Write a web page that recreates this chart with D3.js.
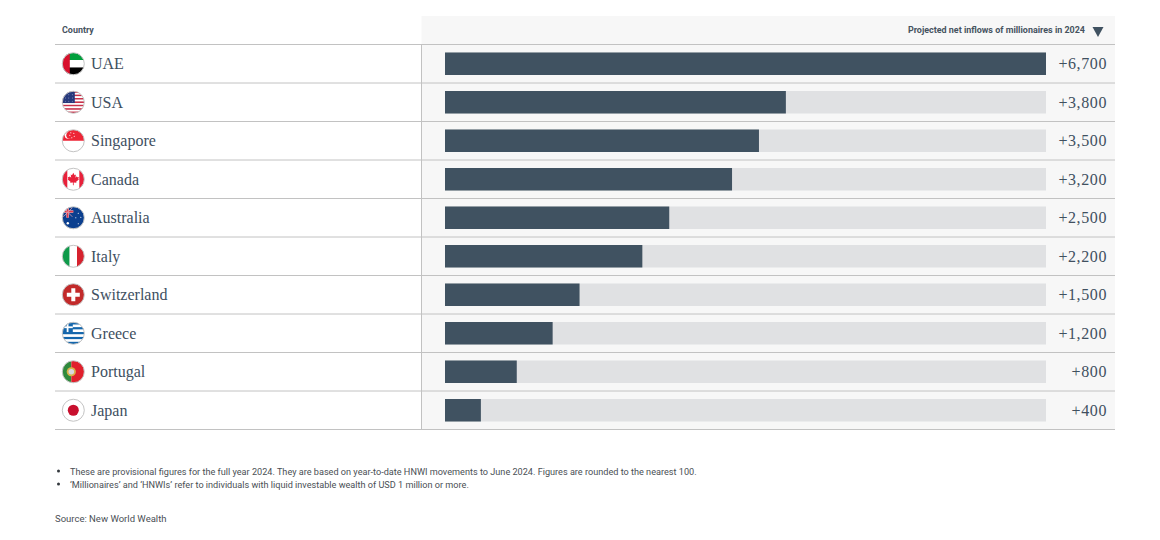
<!DOCTYPE html>
<html>
<head>
<meta charset="utf-8">
<script src="https://cdn.jsdelivr.net/npm/d3@7"></script>
<style>
  html, body { margin: 0; padding: 0; background: #fff; }
  svg { display: block; }
  .country, .value { font-family: "Liberation Serif", serif; font-size: 16px; fill: #40505f; }
  .value { letter-spacing: 0.6px; }
  .head { font-family: Roboto, sans-serif; font-size: 8.95px; font-weight: 700; fill: #46535f; }
  .note { font-family: Roboto, sans-serif; font-size: 9.13px; fill: #4a4f55; }
  .source { font-family: Roboto, sans-serif; font-size: 9.5px; fill: #4a4f55; }
</style>
</head>
<body>
<div id="viz"></div>
<script>
// Data
const countries = ["UAE", "USA", "Singapore", "Canada", "Australia", "Italy", "Switzerland", "Greece", "Portugal", "Japan"];
const inflows = [6700, 3800, 3500, 3200, 2500, 2200, 1500, 1200, 800, 400];
const countryHeader = "Country";
const valueHeader = "Projected net inflows of millionaires in 2024";
const notes = [
  "These are provisional figures for the full year 2024. They are based on year-to-date HNWI movements to June 2024. Figures are rounded to the nearest 100.",
  "\u2018Millionaires\u2019 and \u2018HNWIs\u2019 refer to individuals with liquid investable wealth of USD 1 million or more."
];
const source = "Source: New World Wealth";

// Dimensions
const dims = { width: 1160, height: 540, left: 55, right: 1115, divider: 421.5, panelTop: 16, headLine: 44.5, bottom: 429.5 };
const colors = { panel: "#f7f7f7", track: "#e0e1e3", bar: "#405261", line: "#c2c2c2" };

const svg = d3.select("#viz").append("svg")
  .attr("width", dims.width)
  .attr("height", dims.height);

const y = d3.scaleBand().domain(countries).range([dims.headLine, dims.bottom]);
const x = d3.scaleLinear().domain([0, d3.max(inflows)]).range([445, 1046]);
const barH = 22.5;

// grey panel behind the bars
svg.append("rect")
  .attr("x", dims.divider).attr("y", dims.panelTop)
  .attr("width", dims.right - dims.divider).attr("height", dims.bottom - dims.panelTop)
  .attr("fill", colors.panel);

// Header
svg.append("text").attr("class", "head").attr("x", 62).attr("y", 33).text(countryHeader);
svg.append("text").attr("class", "head").attr("x", 1085).attr("y", 33).attr("text-anchor", "end").text(valueHeader);
svg.append("path").attr("d", "M1092.5,27H1103.5L1098,37Z").attr("fill", colors.bar);

// Row rules
svg.selectAll("line.rule")
  .data([dims.headLine, ...countries.map(c => y(c) + y.bandwidth())])
  .enter().append("line")
  .attr("class", "rule")
  .attr("x1", dims.left).attr("x2", dims.right)
  .attr("y1", d => d).attr("y2", d => d)
  .attr("stroke", colors.line);

svg.append("line")
  .attr("x1", dims.divider).attr("x2", dims.divider)
  .attr("y1", dims.headLine).attr("y2", dims.bottom)
  .attr("stroke", colors.line);

const rows = svg.selectAll("g.row")
  .data(countries.map((c, i) => ({ country: c, value: inflows[i] })))
  .enter().append("g")
  .attr("class", "row")
  .attr("transform", d => `translate(0,${y(d.country) + y.bandwidth() / 2})`);

// Bars
rows.append("rect")
  .attr("x", x(0)).attr("y", -barH / 2)
  .attr("width", x(d3.max(inflows)) - x(0)).attr("height", barH)
  .attr("fill", colors.track);

rows.append("rect")
  .attr("x", x(0)).attr("y", -barH / 2)
  .attr("width", d => x(d.value) - x(0)).attr("height", barH)
  .attr("fill", colors.bar);

rows.append("text").attr("class", "country")
  .attr("x", 91).attr("y", 5.5)
  .text(d => d.country);

rows.append("text").attr("class", "value")
  .attr("x", 1107).attr("y", 5.5).attr("text-anchor", "end")
  .text(d => "+" + d3.format(",")(d.value));

// Flags, drawn in a 22px box centred on 0,0
const r = 11;
const box = (g, fill, bx, by, w, h) => g.append("rect").attr("x", bx).attr("y", by).attr("width", w).attr("height", h).attr("fill", fill);

const flagDrawers = {
  UAE: g => {
    box(g, "#00a03c", -r, -r, 22, 7.4);
    box(g, "#ffffff", -r, -3.7, 22, 7.4);
    box(g, "#000000", -r, 3.7, 22, 7.4);
    box(g, "#d8102c", -r, -r, 7.5, 22);
  },
  USA: g => {
    d3.range(13).forEach(i => box(g, i % 2 ? "#ffffff" : "#c8314a", -r, -r + i * 22 / 13, 22, 22 / 13));
    box(g, "#27397c", -r, -r, 12.5, 11.8);
    d3.range(3).forEach(i => d3.range(3).forEach(j =>
      g.append("circle").attr("cx", -8 + j * 3.5).attr("cy", -7.5 + i * 3.2).attr("r", 0.45).attr("fill", "#cfd4e6")));
  },
  Singapore: g => {
    box(g, "#ffffff", -r, -r, 22, 22);
    box(g, "#ee2536", -r, -r, 22, 11);
    g.append("circle").attr("cx", -5).attr("cy", -5.5).attr("r", 3.6).attr("fill", "#fff");
    g.append("circle").attr("cx", -3.6).attr("cy", -5.5).attr("r", 3.4).attr("fill", "#ee2536");
    [[-2.5, -8], [0.5, -7.5], [1, -4.5], [-1.5, -3], [-3.5, -5.5]].forEach(p =>
      g.append("circle").attr("cx", p[0]).attr("cy", p[1]).attr("r", 0.6).attr("fill", "#fff"));
  },
  Canada: g => {
    box(g, "#ffffff", -r, -r, 22, 22);
    box(g, "#e8203a", -r, -r, 5, 22);
    box(g, "#e8203a", 6, -r, 5, 22);
    g.append("path").attr("fill", "#e8203a")
      .attr("d", "M0,-6.5L1.3,-4L2.6,-4.7L2.1,-1.6L3.6,-3L4,-2L5.5,-2.2L5,-0.2L5.6,0.3L2.8,2.6L3.2,3.6L0.4,3.3V6H-0.4V3.3L-3.2,3.6L-2.8,2.6L-5.6,0.3L-5,-0.2L-5.5,-2.2L-4,-2L-3.6,-3L-2.1,-1.6L-2.6,-4.7L-1.3,-4Z");
  },
  Australia: g => {
    box(g, "#0b3f8f", -r, -r, 22, 22);
    box(g, "#e8a0aa", -r, -7.5, 11, 2.6);
    box(g, "#e8a0aa", -7, -r, 2.6, 11);
    box(g, "#e0374a", -r, -6.8, 11, 1.2);
    box(g, "#e0374a", -6.3, -r, 1.2, 11);
    g.append("path").attr("d", "M-10,-10L-1,-1M-1,-10L-10,-1").attr("stroke", "#e8a0aa").attr("stroke-width", 0.8);
    [[-5.5, 5.5, 1.2], [5, -4.5, 0.6], [7.5, -0.5, 0.6], [2.5, 0, 0.6], [5, 6, 0.6]].forEach(p =>
      g.append("circle").attr("cx", p[0]).attr("cy", p[1]).attr("r", p[2]).attr("fill", "#fff"));
  },
  Italy: g => {
    box(g, "#0f9a4a", -r, -r, 7.4, 22);
    box(g, "#ffffff", -3.7, -r, 7.4, 22);
    box(g, "#d6222e", 3.7, -r, 7.4, 22);
  },
  Switzerland: g => {
    box(g, "#c22a2a", -r, -r, 22, 22);
    box(g, "#ffffff", -6.5, -2, 13, 4);
    box(g, "#ffffff", -2, -6.5, 4, 13);
  },
  Greece: g => {
    d3.range(9).forEach(i => box(g, i % 2 ? "#ffffff" : "#1466ac", -r, -r + i * 22 / 9, 22, 22 / 9));
    box(g, "#1466ac", -r, -r, 10.5, 9.8);
    box(g, "#ffffff", -r, -6.9, 10.5, 1.8);
    box(g, "#ffffff", -6.6, -r, 1.8, 9.8);
  },
  Portugal: g => {
    box(g, "#2f8a3c", -r, -r, 9, 22);
    box(g, "#e0202c", -2, -r, 13, 22);
    g.append("circle").attr("cx", -2).attr("cy", 0).attr("r", 4.6).attr("fill", "#d9b24a");
    g.append("circle").attr("cx", -2).attr("cy", 0).attr("r", 2.8).attr("fill", "#d9d9e0");
  },
  Japan: g => {
    box(g, "#ffffff", -r, -r, 22, 22);
    g.append("circle").attr("r", 5.5).attr("fill", "#c8102e");
  }
};

const defs = svg.append("defs");
defs.append("clipPath").attr("id", "flagClip").append("circle").attr("r", r);

const flags = rows.append("g").attr("transform", "translate(73.3,0)");
flags.each(function(d) {
  const g = d3.select(this).append("g").attr("clip-path", "url(#flagClip)");
  flagDrawers[d.country](g);
});
flags.append("circle").attr("r", r).attr("fill", "none").attr("stroke", "#c4c4c4").attr("stroke-width", 1);

// Footnotes
svg.selectAll("circle.bullet")
  .data(notes)
  .enter().append("circle")
  .attr("class", "bullet")
  .attr("cx", 58.5).attr("cy", (d, i) => 471 + i * 13).attr("r", 1.5)
  .attr("fill", "#33383d");

svg.selectAll("text.note-line")
  .data(notes)
  .enter().append("text")
  .attr("class", "note note-line")
  .attr("x", 70).attr("y", (d, i) => 475 + i * 13)
  .text(d => d);

svg.append("text").attr("class", "source").attr("x", 55).attr("y", 522).text(source);
</script>
</body>
</html>
